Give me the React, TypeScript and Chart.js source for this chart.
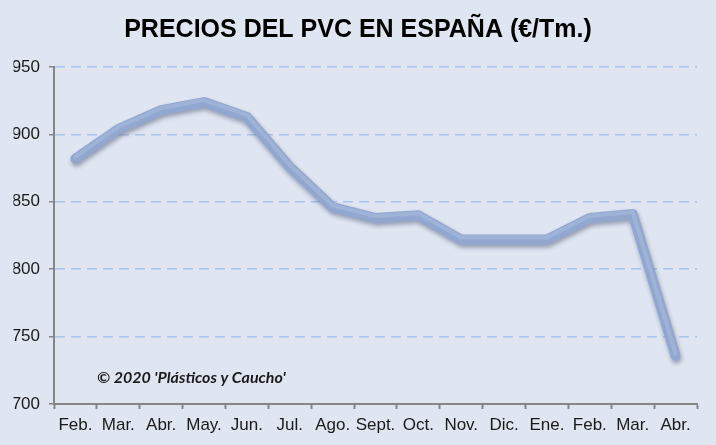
import { useEffect, useRef } from "react"
import { Chart, registerables } from "chart.js"

Chart.register(...registerables)

const months = ["Feb.", "Mar.", "Abr.", "May.", "Jun.", "Jul.", "Ago.", "Sept.", "Oct.", "Nov.", "Dic.", "Ene.", "Feb.", "Mar.", "Abr."]
const prices = [882, 904, 918, 924, 913, 876, 846, 838, 840, 822, 822, 822, 838, 841, 736]
const yMin = 700
const yMax = 950
const yStep = 50

const chartTitle = "PRECIOS DEL PVC EN ESPAÑA (€/Tm.)"
const credit = "© 2020 'Plásticos y Caucho'"

// soft shadow under the thick line, then a lighter streak on its upper half
const lineShadow = {
  id: "lineShadow",
  beforeDatasetsDraw(chart: Chart) {
    const ctx = chart.ctx
    ctx.save()
    ctx.shadowColor = "rgba(60, 72, 105, 0.45)"
    ctx.shadowBlur = 4
    ctx.shadowOffsetX = 1
    ctx.shadowOffsetY = 3
  },
  afterDatasetsDraw(chart: Chart) {
    const ctx = chart.ctx
    ctx.restore()
    const pts = chart.getDatasetMeta(0).data
    if (!pts.length) return
    ctx.save()
    ctx.strokeStyle = "rgba(168, 186, 224, 0.6)"
    ctx.lineWidth = 4
    ctx.lineJoin = "round"
    ctx.lineCap = "round"
    ctx.beginPath()
    pts.forEach((p, i) => {
      if (i === 0) ctx.moveTo(p.x, p.y - 2)
      else ctx.lineTo(p.x, p.y - 2)
    })
    ctx.stroke()
    ctx.restore()
  },
}

const creditText = {
  id: "creditText",
  afterDraw(chart: Chart) {
    const ctx = chart.ctx
    ctx.save()
    ctx.font = "italic bold 16px Lato"
    ctx.fillStyle = "#1a1a1a"
    ctx.textBaseline = "alphabetic"
    ctx.fillText(credit, 97, 383)
    ctx.restore()
  },
}

export default function App() {
  const canvasRef = useRef<HTMLCanvasElement>(null)
  const chartRef = useRef<Chart | null>(null)

  useEffect(() => {
    if (!canvasRef.current) return
    if (chartRef.current) chartRef.current.destroy()

    chartRef.current = new Chart(canvasRef.current, {
      type: "line",
      data: {
        labels: months,
        datasets: [
          {
            label: "PVC",
            data: prices,
            borderColor: "#92a7cf",
            borderWidth: 10,
            borderJoinStyle: "round",
            borderCapStyle: "round",
            pointRadius: 0,
            tension: 0,
            fill: false,
          },
        ],
      },
      options: {
        animation: false,
        responsive: true,
        maintainAspectRatio: false,
        layout: { padding: { left: 13.5, right: 13.5, top: 0, bottom: 0 } },
        plugins: {
          legend: { display: false },
          tooltip: { enabled: false },
          title: {
            display: true,
            text: chartTitle,
            color: "#000",
            font: { family: "Liberation Sans", size: 25, weight: "bold" },
            padding: { top: 15, bottom: 22 },
          },
        },
        scales: {
          x: {
            offset: true,
            grid: {
              offset: true,
              drawOnChartArea: false,
              drawTicks: true,
              tickLength: 5,
              tickColor: "#868686",
              tickWidth: 2,
            },
            border: { color: "#868686", width: 2 },
            ticks: {
              color: "#1a1a1a",
              font: { family: "Liberation Sans", size: 17 },
              padding: 6,
              maxRotation: 0,
              autoSkip: false,
            },
            afterFit: (scale) => {
              scale.height = 41
            },
          },
          y: {
            min: yMin,
            max: yMax,
            grid: {
              color: "#a9c3ef",
              lineWidth: 1.5,
              tickLength: 5,
              tickColor: "#868686",
              tickWidth: 1.5,
            },
            border: { color: "#868686", width: 2, dash: [10, 6] },
            ticks: {
              stepSize: yStep,
              color: "#1a1a1a",
              font: { family: "Liberation Sans", size: 17 },
              padding: 9,
            },
            afterFit: (scale) => {
              scale.width = 40.5
            },
          },
          // empty right-hand gutter so the plot ends where the original does
          yRight: {
            position: "right",
            min: yMin,
            max: yMax,
            grid: { display: false },
            border: { display: false },
            ticks: { display: false },
            afterFit: (scale) => {
              scale.width = 5.5
            },
          },
        },
      },
      plugins: [lineShadow, creditText],
    })

    return () => {
      if (chartRef.current) {
        chartRef.current.destroy()
        chartRef.current = null
      }
    }
  }, [])

  return (
    <div
      style={{
        position: "absolute",
        left: 0,
        top: 0,
        width: 716,
        height: 445,
        background: "#dfe5f1",
      }}
    >
      <canvas ref={canvasRef} />
    </div>
  )
}
